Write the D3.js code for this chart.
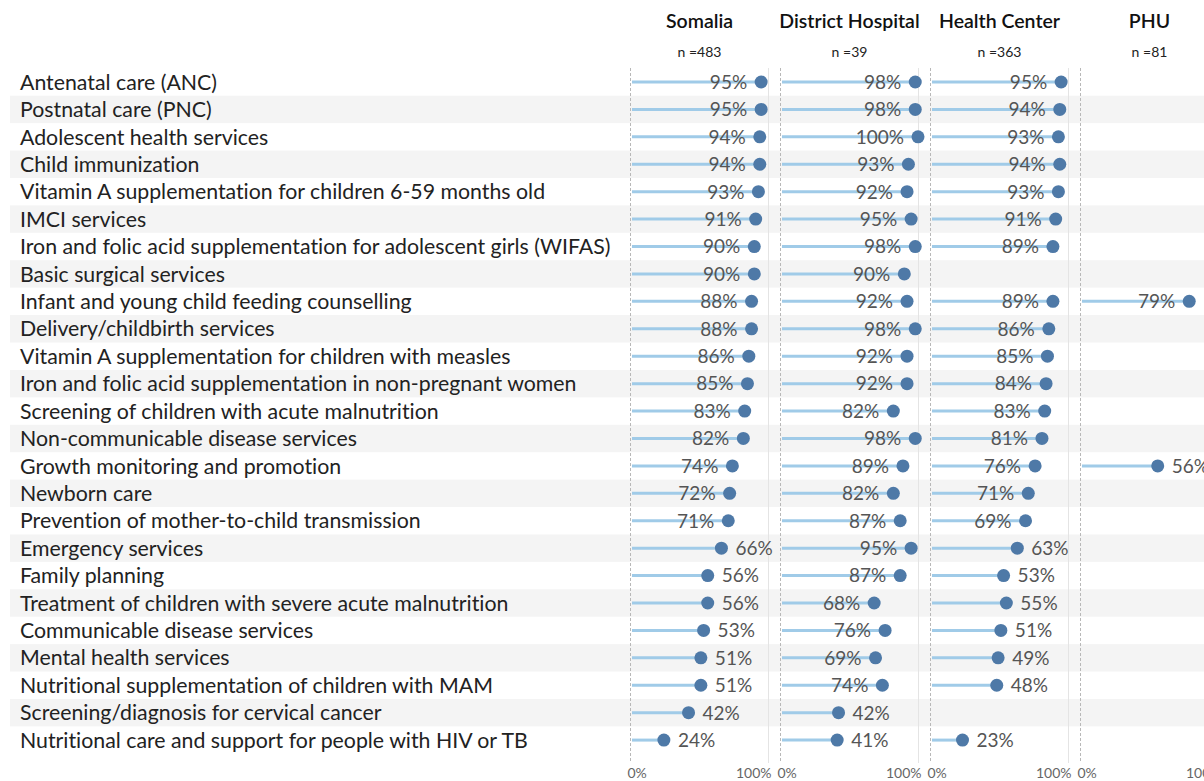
<!DOCTYPE html>
<html><head><meta charset="utf-8">
<script src="https://cdn.jsdelivr.net/npm/d3@7"></script>
<style>body{margin:0;background:#fff;} svg{display:block;} text{font-variant-ligatures:none;}</style>
</head><body>
<script>
const categories = [
 "Antenatal care (ANC)","Postnatal care (PNC)","Adolescent health services","Child immunization",
 "Vitamin A supplementation for children 6-59 months old","IMCI services",
 "Iron and folic acid supplementation for adolescent girls (WIFAS)","Basic surgical services",
 "Infant and young child feeding counselling","Delivery/childbirth services",
 "Vitamin A supplementation for children with measles","Iron and folic acid supplementation in non-pregnant women",
 "Screening of children with acute malnutrition","Non-communicable disease services",
 "Growth monitoring and promotion","Newborn care","Prevention of mother-to-child transmission",
 "Emergency services","Family planning","Treatment of children with severe acute malnutrition",
 "Communicable disease services","Mental health services","Nutritional supplementation of children with MAM",
 "Screening/diagnosis for cervical cancer","Nutritional care and support for people with HIV or TB"];
const panels = ["Somalia","District Hospital","Health Center","PHU"];
const counts = ["n =483","n =39","n =363","n =81"];
const somalia = [95,95,94,94,93,91,90,90,88,88,86,85,83,82,74,72,71,66,56,56,53,51,51,42,24];
const districtHospital = [98,98,100,93,92,95,98,90,92,98,92,92,82,98,89,82,87,95,87,68,76,69,74,42,41];
const healthCenter = [95,94,93,94,93,91,89,null,89,86,85,84,83,81,76,71,69,63,53,55,51,49,48,null,23];
const phu = [null,null,null,null,null,null,null,null,79,null,null,null,null,null,56,null,null,null,null,null,null,null,null,null,null];
const axisTicks = ["0%","100%"];

const series = [somalia, districtHospital, healthCenter, phu];
const W = 1204, H = 781;
const svg = d3.select("body").append("svg").attr("width", W).attr("height", H);
const font = "Lato, 'Open Sans', sans-serif";

const y = d3.scaleBand().domain(categories.map((d,i)=>i)).range([68.3, 68.3 + 27.42*categories.length]).padding(0);
const panelX = d3.scaleBand().domain(panels).range([631, 1231]).padding(0);

svg.append("g").selectAll("rect").data(categories).join("rect")
  .attr("x", 10).attr("width", W-10)
  .attr("y", (d,i)=>y(i)).attr("height", y.bandwidth())
  .attr("fill", (d,i)=> i%2===1 ? "#f4f4f4" : "none");

svg.append("g").selectAll("text").data(categories).join("text")
  .attr("x", 20).attr("y", (d,i)=>y(i)+y.bandwidth()/2)
  .attr("dy","0.36em").attr("font-family", font).attr("font-size", 21.3)
  .attr("fill","#222").text(d=>d);

const lineTop = 68, lineBottom = 763;

panels.forEach((p, pi) => {
  const x0 = panelX(p);
  const x = d3.scaleLinear().domain([0,100]).range([x0, x0+137]);
  const g = svg.append("g");
  if (pi < panels.length-1) {
    g.append("line").attr("x1", x(100)+0.5).attr("x2", x(100)+0.5)
      .attr("y1", lineTop).attr("y2", lineBottom).attr("stroke","#e4e4e4").attr("stroke-width",1);
  }
  g.append("line").attr("x1", x(0)-0.5).attr("x2", x(0)-0.5)
    .attr("y1", lineTop).attr("y2", lineBottom)
    .attr("stroke","#b8b8b8").attr("stroke-width",1).attr("stroke-dasharray","3,2");
  g.append("text").attr("x", x(50)).attr("y", 28).attr("text-anchor","middle")
    .attr("font-family", font).attr("font-size", 19.5).attr("font-weight", 600).attr("fill","#111").text(p);
  g.append("text").attr("x", x(50)).attr("y", 57).attr("text-anchor","middle")
    .attr("font-family", font).attr("font-size", 14).attr("fill","#222").text(counts[pi]);
  const ax = d3.axisBottom(x).tickValues([0,100]).tickFormat((d,i)=>axisTicks[i]).tickSize(0);
  const axg = g.append("g").attr("transform", `translate(0,${lineBottom})`).call(ax);
  axg.select(".domain").remove();
  axg.selectAll("text").attr("font-family", font).attr("font-size", 14).attr("fill","#666")
    .attr("dy", "0.85em")
    .attr("text-anchor", (d)=> d===0 ? "start" : "end")
    .attr("dx", (d)=> d===0 ? -4 : 3);

  const data = series[pi].map((v,i)=>({v,i})).filter(d=>d.v!==null);
  const rows = g.selectAll("g.row").data(data).join("g").attr("class","row")
    .attr("transform", d=>`translate(0,${y(d.i)+y.bandwidth()/2})`);
  rows.append("line").attr("x1", x(0)+1).attr("x2", d=>x(d.v)).attr("y1",0).attr("y2",0)
    .attr("stroke","#a0cbe8").attr("stroke-width",3);
  rows.append("text")
    .attr("x", d=> d.v>=67 ? x(d.v)-14 : x(d.v)+14)
    .attr("text-anchor", d=> d.v>=67 ? "end" : "start")
    .attr("dy","0.36em").attr("font-family", font).attr("font-size", 19)
    .attr("fill","#555").text(d=>d.v+"%");
  rows.append("circle").attr("cx", d=>x(d.v)).attr("cy",0).attr("r",6.5).attr("fill","#4e79a7");
});
</script>
</body></html>
